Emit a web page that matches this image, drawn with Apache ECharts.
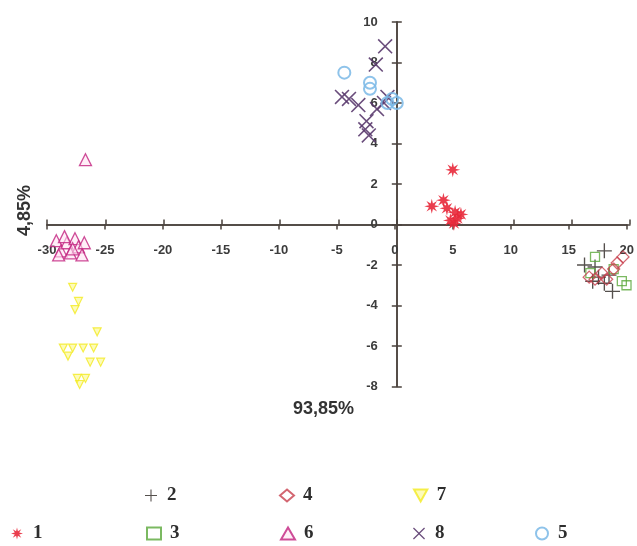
<!DOCTYPE html>
<html>
<head>
<meta charset="utf-8">
<script src="https://cdn.jsdelivr.net/npm/echarts@6/dist/echarts.min.js"></script>
<style>
  html, body { margin: 0; padding: 0; background: #ffffff; }
  #chart { width: 637px; height: 546px; }
</style>
</head>
<body>
<div id="chart"></div>
<script>
// Group scores on the first two components (x: 93,85 %, y: 4,85 %)
const xTicks = [-30, 20, 5];   // min, max, interval
const yTicks = [-8, 10, 2];

const group1 = [[4.8, 2.7], [3.0, 0.9], [4.0, 1.2], [4.3, 0.8], [5.0, 0.6], [5.5, 0.5], [4.6, 0.2], [5.2, 0.3], [4.9, 0.05]];
const group2 = [[17.8, -1.3], [16.1, -2.0], [17.0, -2.1], [17.3, -2.6], [17.8, -2.9], [18.5, -3.3], [18.2, -2.5], [16.8, -2.8]];
const group3 = [[17.0, -1.6], [16.6, -2.4], [19.3, -2.8], [19.7, -3.0], [18.6, -2.2]];
const group4 = [[19.4, -1.6], [18.9, -1.9], [18.6, -2.2], [16.5, -2.6], [17.0, -2.7], [18.0, -2.7], [17.6, -2.4]];
const group5 = [[-4.5, 7.5], [-2.3, 7.0], [-2.3, 6.7], [-0.4, 6.2], [0.0, 6.0], [-0.8, 6.0]];
const group6 = [[-26.7, 3.2], [-29.2, -0.8], [-28.8, -1.3], [-28.3, -0.9], [-28.0, -1.4], [-27.6, -0.7], [-27.3, -1.1], [-27.0, -1.5], [-26.8, -0.9], [-29.0, -1.5], [-28.5, -0.6], [-27.8, -1.2]];
const group7 = [[-27.8, -3.1], [-27.3, -3.8], [-27.6, -4.2], [-25.7, -5.3], [-28.6, -6.1], [-27.8, -6.1], [-26.9, -6.1], [-26.0, -6.1], [-28.2, -6.5], [-26.3, -6.8], [-25.4, -6.8], [-27.4, -7.6], [-26.7, -7.6], [-27.2, -7.9]];
const group8 = [[-1.0, 8.8], [-1.8, 7.9], [-4.7, 6.3], [-4.1, 6.2], [-3.3, 5.9], [-1.7, 5.7], [-0.8, 6.3], [-1.1, 6.0], [-2.6, 5.1], [-2.7, 4.7], [-2.4, 4.4]];

const xName = '93,85%';
const yName = '4,85%';

// symbol outlines
function starPath(n, rOut, rIn) {
  let d = '';
  for (let i = 0; i < n * 2; i++) {
    const r = i % 2 === 0 ? rOut : rIn;
    const a = Math.PI * i / n - Math.PI / 2;
    d += (i === 0 ? 'M' : 'L') + (10 + r * Math.cos(a)).toFixed(2) + ',' + (10 + r * Math.sin(a)).toFixed(2) + ' ';
  }
  return 'path://' + d + 'Z';
}
function crossPath(angle, t) {
  const pts = [[-t, -10], [t, -10], [t, -t], [10, -t], [10, t], [t, t], [t, 10], [-t, 10], [-t, t], [-10, t], [-10, -t], [-t, -t]];
  const c = Math.cos(angle), s = Math.sin(angle);
  return 'path://' + pts.map((p, i) => (i ? 'L' : 'M') + (10 + p[0] * c - p[1] * s).toFixed(2) + ',' + (10 + p[0] * s + p[1] * c).toFixed(2)).join(' ') + ' Z';
}
const ASTERISK = starPath(8, 10, 4);
const PLUS = crossPath(0, 0.9);
const CROSS = crossPath(Math.PI / 4, 0.8);
const DOWN_TRI = 'path://M0,0 L10,0 L5,9 Z';

const hollow = 'rgba(255,255,255,0)';
const seriesDefs = [
  { name: '1', data: group1, symbol: ASTERISK, size: 15, style: { color: '#e8283a', opacity: 0.9 } },
  { name: '2', data: group2, symbol: PLUS, size: 15, style: { color: '#2a2420' } },
  { name: '3', data: group3, symbol: 'rect', size: 9, style: { color: hollow, borderColor: '#5aa83a', borderWidth: 1.3 } },
  { name: '4', data: group4, symbol: 'diamond', size: 12, style: { color: hollow, borderColor: '#c8404e', borderWidth: 1.3 } },
  { name: '6', data: group6, symbol: 'triangle', size: 12, style: { color: 'rgba(255,225,240,0.7)', borderColor: '#c2207e', borderWidth: 1.3 } },
  { name: '7', data: group7, symbol: DOWN_TRI, size: 8, style: { color: 'rgba(250,245,80,0.5)', borderColor: '#f2ea20', borderWidth: 1.2 } },
  { name: '8', data: group8, symbol: CROSS, size: 15, style: { color: '#5a3a6e', opacity: 0.9 } },
  { name: '5', data: group5, symbol: 'circle', size: 12, style: { color: hollow, borderColor: '#7ab8e6', borderWidth: 2, opacity: 0.85 } }
];

const legendPos = {
  '2': [140, 481], '4': [274, 481], '7': [408, 481],
  '1': [6, 519], '3': [141, 519], '6': [275, 519], '8': [408, 519], '5': [530, 519]
};

// plot frame
const P = { left: 47, top: 22, width: 583, height: 364.5 };
const xZero = P.left + P.width * (0 - xTicks[0]) / (xTicks[1] - xTicks[0]);
const yZero = P.top + P.height * (yTicks[1] - 0) / (yTicks[1] - yTicks[0]);

const axisColor = '#4a423c';
const lineStyle = { color: axisColor, width: 1.5 };
const labelStyle = { color: '#3c3c3c', fontSize: 13, fontWeight: 'bold', fontFamily: 'Liberation Sans', margin: 19 };
const hidden = { show: false };

function xAxisAt(gridIndex, position, withLabels) {
  return {
    type: 'value', gridIndex, position, min: xTicks[0], max: xTicks[1], interval: xTicks[2],
    axisLine: { show: true, onZero: false, lineStyle },
    axisTick: { show: true, length: 5, lineStyle },
    axisLabel: withLabels ? labelStyle : hidden, splitLine: hidden
  };
}
function yAxisAt(gridIndex, position, withLabels) {
  return {
    type: 'value', gridIndex, position, min: yTicks[0], max: yTicks[1], interval: yTicks[2],
    axisLine: { show: true, onZero: false, lineStyle },
    axisTick: { show: true, length: 5, lineStyle },
    axisLabel: withLabels ? labelStyle : hidden, splitLine: hidden
  };
}
function hiddenAxis(gridIndex, range) {
  return { type: 'value', gridIndex, min: range[0], max: range[1], show: false };
}

const chart = echarts.init(document.getElementById('chart'), null, { renderer: 'canvas' });
chart.setOption({
  backgroundColor: '#ffffff',
  animation: false,
  grid: [
    // 0: data area
    { left: P.left, top: P.top, width: P.width, height: P.height },
    // 1: above the horizontal axis (axis at its bottom edge, labels below)
    { left: P.left, top: P.top, width: P.width, height: yZero - P.top },
    // 2: below the horizontal axis (upward ticks)
    { left: P.left, top: yZero, width: P.width, height: P.top + P.height - yZero },
    // 3: right of the vertical axis (axis at its left edge, labels left)
    { left: xZero, top: P.top, width: P.left + P.width - xZero, height: P.height },
    // 4: left of the vertical axis (rightward ticks)
    { left: P.left, top: P.top, width: xZero - P.left, height: P.height }
  ],
  xAxis: [
    { type: 'value', gridIndex: 0, min: xTicks[0], max: xTicks[1], show: false },
    xAxisAt(1, 'bottom', true),
    xAxisAt(2, 'top', false),
    hiddenAxis(3, xTicks),
    hiddenAxis(4, xTicks)
  ],
  yAxis: [
    { type: 'value', gridIndex: 0, min: yTicks[0], max: yTicks[1], show: false },
    hiddenAxis(1, yTicks),
    hiddenAxis(2, yTicks),
    yAxisAt(3, 'left', true),
    yAxisAt(4, 'right', false)
  ],
  legend: seriesDefs.map(s => ({
    data: [s.name],
    left: legendPos[s.name][0], top: legendPos[s.name][1],
    itemWidth: 14, itemHeight: 12, itemGap: 0,
    selectedMode: false,
    textStyle: { fontFamily: 'Liberation Serif', fontWeight: 'bold', fontSize: 19, color: '#2e2e2e', padding: [0, 0, 0, 4] }
  })),
  graphic: [
    { type: 'text', left: 293, top: 400, style: { text: xName, font: 'bold 18px "Liberation Sans"', fill: '#333333' } },
    { type: 'text', x: 16, y: 236, rotation: Math.PI / 2, style: { text: yName, font: 'bold 18px "Liberation Sans"', fill: '#333333' } }
  ],
  series: seriesDefs.map(s => ({
    type: 'scatter', name: s.name, data: s.data,
    xAxisIndex: 0, yAxisIndex: 0,
    symbol: s.symbol, symbolSize: s.size,
    itemStyle: s.style,
    emphasis: { disabled: true }
  }))
});
</script>
</body>
</html>
